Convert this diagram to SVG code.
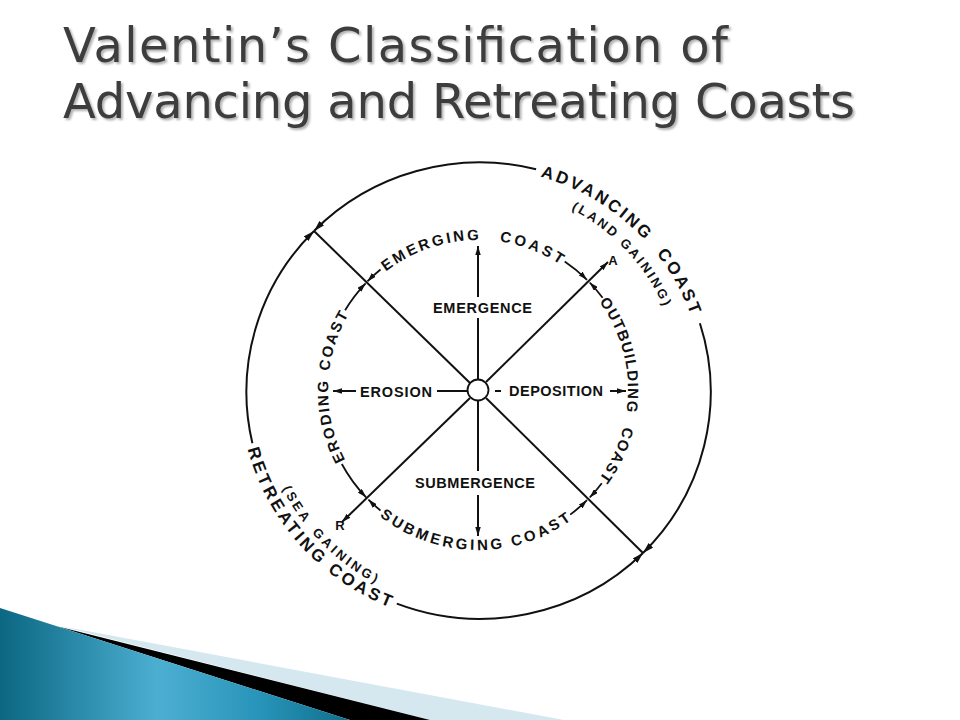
<svg xmlns="http://www.w3.org/2000/svg" width="960" height="720" viewBox="0 0 960 720">
<defs>
<style>
.title{font-family:"DejaVu Sans","Liberation Sans",sans-serif;font-size:48px;fill:#3e3e3e}
.ring{font-family:"Liberation Sans",Arial,sans-serif;font-weight:bold;font-size:15px;fill:#111}
.lbl{font-family:"Liberation Sans",Arial,sans-serif;font-weight:bold;font-size:14.5px;fill:#111}
.outer{font-family:"Liberation Sans",Arial,sans-serif;font-weight:bold;font-size:17px;fill:#111}
.sub{font-family:"Liberation Sans",Arial,sans-serif;font-weight:bold;font-size:13px;fill:#111}
.ln{fill:none;stroke:#111;stroke-width:2}
.rg{fill:none;stroke:#111;stroke-width:1.8}
.tp{fill:none;stroke:none}
</style>
<marker id="ah" viewBox="0 0 10 10" refX="10" refY="5" markerUnits="userSpaceOnUse" markerWidth="9" markerHeight="5.5" preserveAspectRatio="none" orient="auto-start-reverse"><path d="M0,0 L10,5 L0,10 z" fill="#111"/></marker>
<marker id="ahL" viewBox="0 0 10 10" refX="10" refY="5" markerUnits="userSpaceOnUse" markerWidth="11" markerHeight="6.5" preserveAspectRatio="none" orient="auto-start-reverse"><path d="M0,0 L10,5 L0,10 z" fill="#111"/></marker>
<filter id="sh" x="-5%" y="-20%" width="110%" height="140%"><feDropShadow dx="2" dy="2" stdDeviation="1.2" flood-color="#000" flood-opacity="0.3"/></filter>
<linearGradient id="blueG" x1="0" y1="0" x2="350" y2="0" gradientUnits="userSpaceOnUse">
<stop offset="0" stop-color="#0b6782"/>
<stop offset="0.45" stop-color="#4cafd2"/>
<stop offset="0.75" stop-color="#2793b8"/>
<stop offset="1" stop-color="#0f6f8d"/>
</linearGradient>
<path id="pEm" class="tp" d="M385.9,271.6 A150,150 0 0 1 504,242.3"/>
<path id="pCoT" class="tp" d="M499.4,241.5 A150,150 0 0 1 574.4,275.1"/>
<path id="pOut" class="tp" d="M599.2,301.6 A150,150 0 0 1 622.9,428.8"/>
<path id="pCoR" class="tp" d="M623.5,426.5 A150,150 0 0 1 592.9,486.4"/>
<path id="pEro" class="tp" d="M345.4,460.2 A150,150 0 0 1 330.3,364"/>
<path id="pCoL" class="tp" d="M329.2,371.2 A150,150 0 0 1 363.1,293.6"/>
<path id="pSub" class="tp" d="M379.7,516.3 A160,160 0 0 0 580.8,512.6"/>
<path id="pAdv" class="tp" d="M540.3,176.6 A226,222 0 0 1 700.6,351.4"/>
<path id="pRet" class="tp" d="M247.7,449 A238,234 0 0 0 444.9,621.7"/>
<path id="pLand" class="tp" d="M571.3,209.2 A203.5,203.5 0 0 1 674.6,337.3"/>
<path id="pSea" class="tp" d="M282.3,488.4 A219,219 0 0 0 421.3,601.5"/>
</defs>

<rect width="960" height="720" fill="#ffffff"/>

<g id="decoration">
<polygon points="60,626 564,720 430,720" fill="#d5e8f0"/>
<polygon points="58,626.5 430,720 350,720" fill="#000"/>
<polygon points="0,608 350,720 0,720" fill="url(#blueG)"/>
</g>

<g id="title" filter="url(#sh)">
<text class="title" x="63" y="62" textLength="665">Valentin’s Classification of</text>
<text class="title" x="63" y="118" textLength="792">Advancing and Retreating Coasts</text>
</g>

<g id="connectors">
<path class="ln" d="M314,231 A232,228 0 0 1 536.1,169.3" marker-start="url(#ahL)"/>
<path class="ln" d="M699.9,323.3 A232,228 0 0 1 643,553" marker-end="url(#ahL)"/>
<path class="ln" d="M314,231 A232,228 0 0 0 252.4,443.2" marker-start="url(#ahL)"/>
<path class="ln" d="M396.8,603.6 A232,228 0 0 0 643,553" marker-end="url(#ahL)"/>
<line class="ln" x1="314" y1="231" x2="470" y2="383"/>
<line class="ln" x1="486" y1="398" x2="643" y2="553"/>
<line class="ln" x1="486" y1="382" x2="608" y2="262" marker-end="url(#ah)"/>
<line class="ln" x1="470" y1="398" x2="342" y2="522" marker-end="url(#ah)"/>
<line class="ln" x1="478" y1="379" x2="478" y2="318"/>
<line class="ln" x1="478" y1="297" x2="478" y2="246" marker-end="url(#ah)"/>
<line class="ln" x1="478" y1="401" x2="478" y2="471"/>
<line class="ln" x1="478" y1="495" x2="478" y2="536" marker-end="url(#ah)"/>
<line class="ln" x1="467" y1="391" x2="437" y2="391"/>
<line class="ln" x1="356" y1="391" x2="333" y2="391" marker-end="url(#ah)"/>
<line class="ln" x1="495" y1="391" x2="501" y2="391"/>
<line class="ln" x1="610" y1="391" x2="626" y2="391" marker-end="url(#ah)"/>
<path class="rg" d="M380.5,269.5 A155,155 0 0 0 367.4,281.4" marker-end="url(#ah)"/>
<path class="rg" d="M345.1,310.2 A155,155 0 0 1 365.6,283.3" marker-end="url(#ah)"/>
<path class="rg" d="M564.7,261.5 A155,155 0 0 1 587,279.8" marker-end="url(#ah)"/>
<path class="rg" d="M602.6,297.8 A155,155 0 0 0 589.7,282.5" marker-end="url(#ah)"/>
<path class="rg" d="M601.8,483.3 A155,155 0 0 1 589.7,497.5" marker-end="url(#ah)"/>
<path class="rg" d="M570.2,514.6 A155,155 0 0 0 587,500.2" marker-end="url(#ah)"/>
<path class="rg" d="M341.8,464 A155,155 0 0 0 366.1,497.3" marker-end="url(#ah)"/>
<path class="rg" d="M380.5,510.5 A155,155 0 0 1 368.4,499.6" marker-end="url(#ah)"/>
</g>

<g id="center">
<circle cx="478" cy="390" r="10.5" fill="#fff" stroke="#111" stroke-width="1.8"/>
</g>

<g id="emergence"><text class="lbl" x="482.5" y="313" text-anchor="middle" textLength="99">EMERGENCE</text></g>
<g id="submergence"><text class="lbl" x="475" y="488" text-anchor="middle" textLength="120">SUBMERGENCE</text></g>
<g id="erosion"><text class="lbl" x="360" y="397" textLength="72">EROSION</text></g>
<g id="deposition"><text class="lbl" x="509" y="396" textLength="94">DEPOSITION</text></g>
<g id="labelA"><text class="sub" x="613" y="265" text-anchor="middle">A</text></g>
<g id="labelR"><text class="sub" x="340" y="530" text-anchor="middle">R</text></g>

<g id="emerging-coast">
<text class="ring" letter-spacing="2.6"><textPath href="#pEm">EMERGING</textPath></text>
<text class="ring" letter-spacing="3.2"><textPath href="#pCoT">COAST</textPath></text>
</g>
<g id="outbuilding-coast">
<text class="ring" letter-spacing="1.2"><textPath href="#pOut">OUTBUILDING</textPath></text>
<text class="ring" letter-spacing="1.4"><textPath href="#pCoR">COAST</textPath></text>
</g>
<g id="eroding-coast">
<text class="ring" letter-spacing="1.95"><textPath href="#pEro">ERODING</textPath></text>
<text class="ring" letter-spacing="1.9"><textPath href="#pCoL">COAST</textPath></text>
</g>
<g id="submerging-coast">
<text class="ring" letter-spacing="3"><textPath href="#pSub">SUBMERGING COAST</textPath></text>
</g>
<g id="advancing-coast">
<text class="outer" letter-spacing="2.7" word-spacing="8"><textPath href="#pAdv">ADVANCING COAST</textPath></text>
<text class="sub" letter-spacing="2.5"><textPath href="#pLand">(LAND GAINING)</textPath></text>
</g>
<g id="retreating-coast">
<text class="outer" letter-spacing="3.1"><textPath href="#pRet">RETREATING COAST</textPath></text>
<text class="sub" letter-spacing="3.05" word-spacing="4"><textPath href="#pSea">(SEA GAINING)</textPath></text>
</g>
</svg>
